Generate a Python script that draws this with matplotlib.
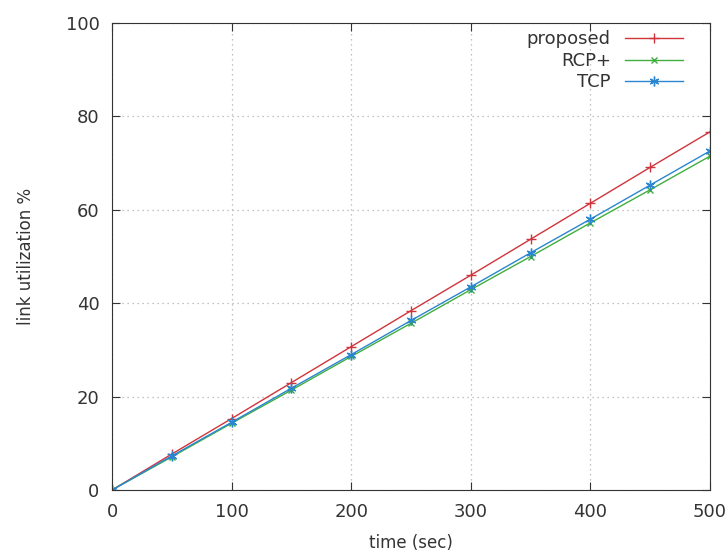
import matplotlib
matplotlib.use("Agg")
import matplotlib.pyplot as plt

# time (sec) vs link utilization %
time = [0, 50, 100, 150, 200, 250, 300, 350, 400, 450, 500]
proposed = [0, 7.7, 15.3, 23.0, 30.7, 38.4, 46.0, 53.7, 61.4, 69.1, 76.7]
rcp_plus = [0, 7.1, 14.3, 21.4, 28.6, 35.7, 42.9, 50.0, 57.2, 64.3, 71.5]
tcp = [0, 7.3, 14.5, 21.8, 29.0, 36.3, 43.5, 50.8, 58.0, 65.3, 72.6]

fig = plt.figure(figsize=(7.26, 5.54), dpi=100)
ax = fig.add_axes([0.1543, 0.1155, 0.8237, 0.843])

ax.plot(time, proposed, color="#d0343c", marker="+", markersize=7, lw=1, label="proposed")
ax.plot(time, rcp_plus, color="#3fae3f", marker="x", markersize=5, lw=1, label="RCP+")
ax.plot(time, tcp, color="#2a86d0", marker=(6, 2, 0), markersize=7, lw=1, label="TCP")

ax.set_xlim(0, 500)
ax.set_ylim(0, 100)
ax.set_xticks([0, 100, 200, 300, 400, 500])
ax.set_yticks([0, 20, 40, 60, 80, 100])
ax.grid(True, color="#b0b0b0", linestyle=(0, (1, 3)), lw=0.9)
ax.tick_params(direction="in", top=True, right=True, length=6, labelsize=13,
               colors="#333333", pad=9)
for s in ax.spines.values():
    s.set_color("#333333")

ax.set_xlabel("time (sec)", fontsize=12, color="#333333", labelpad=10)
ax.set_ylabel("link utilization %", fontsize=12, color="#333333", labelpad=22)

leg = ax.legend(loc="upper right", bbox_to_anchor=(0.967, 1.0), frameon=False,
                markerfirst=False, fontsize=13, handlelength=3.2, handletextpad=0.8,
                labelspacing=0.2, borderaxespad=0.0)
for t in leg.get_texts():
    t.set_color("#333333")

fig.savefig("out.png", dpi=100)
